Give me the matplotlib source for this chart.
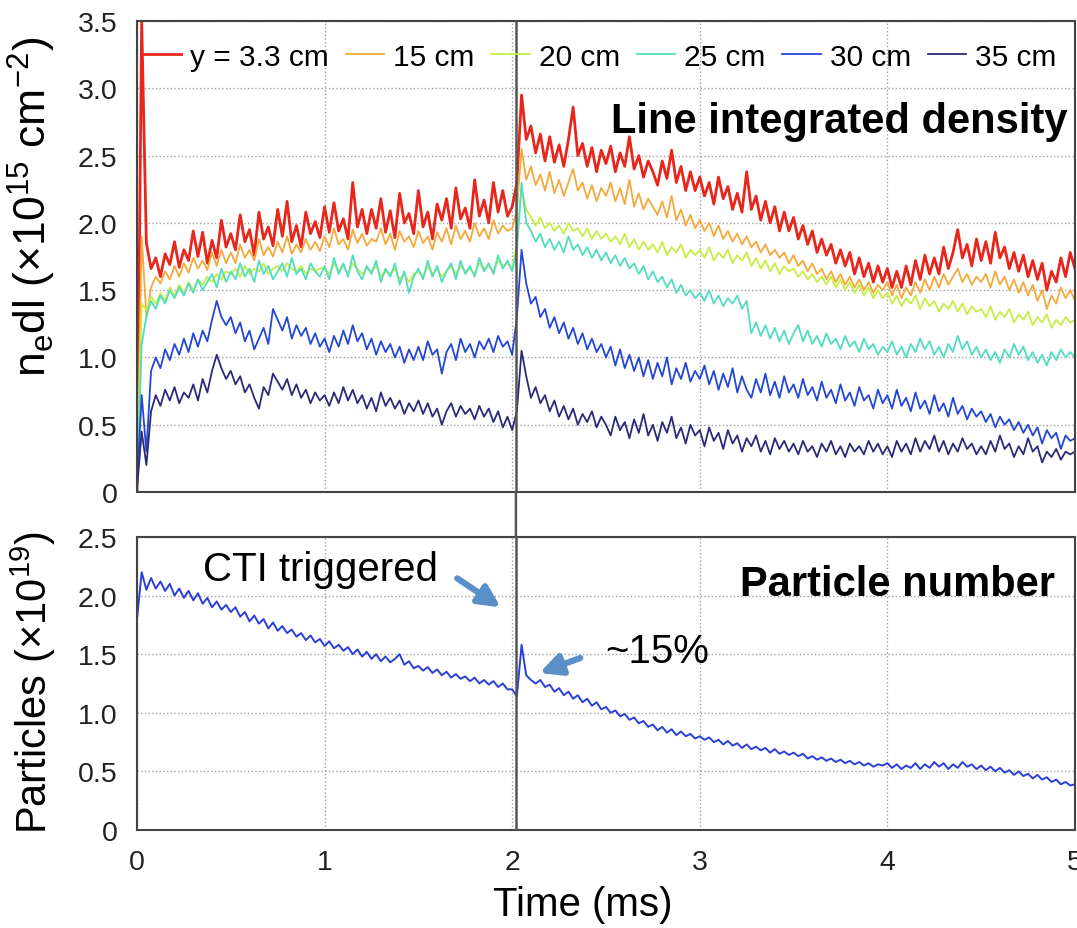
import numpy as np
import matplotlib
matplotlib.use('Agg')
import matplotlib.pyplot as plt
from matplotlib.patches import ConnectionPatch

plt.rcParams['font.family'] = ['Liberation Sans', 'DejaVu Sans']
plt.rcParams['mathtext.fontset'] = 'custom'
plt.rcParams['mathtext.rm'] = 'Liberation Sans'
plt.rcParams['mathtext.it'] = 'Liberation Sans:italic'

# sampling times (ms), one sample every 25 us
time_ms = np.round(np.arange(0, 5.0001, 0.025), 3)
t_cti = 2.02  # CTI trigger time

# line integrated density (x1e15 cm^-2), one row per 0.5 ms
ne_33 = [
    0.00, 3.50, 1.85, 1.66, 1.74, 1.60, 1.77, 1.69, 1.86, 1.67, 1.80, 1.72, 1.94, 1.75, 1.93, 1.70, 1.87, 1.74, 2.02, 1.82,
    1.92, 1.80, 2.06, 1.86, 1.95, 1.76, 2.08, 1.88, 1.97, 1.83, 2.10, 1.90, 2.16, 1.86, 1.98, 1.82, 2.08, 1.92, 2.01, 1.89,
    2.12, 1.93, 2.15, 1.94, 2.03, 1.88, 2.30, 1.97, 2.10, 1.92, 2.10, 1.96, 2.18, 1.93, 2.09, 1.89, 2.22, 2.00, 2.07, 1.92,
    2.24, 1.97, 2.08, 1.88, 2.14, 2.02, 2.18, 1.96, 2.26, 2.03, 2.11, 1.96, 2.32, 2.05, 2.17, 2.00, 2.30, 2.08, 2.24, 2.05,
    2.12, 2.30, 2.95, 2.62, 2.72, 2.52, 2.66, 2.46, 2.64, 2.45, 2.58, 2.42, 2.62, 2.86, 2.50, 2.59, 2.42, 2.56, 2.38, 2.54,
    2.44, 2.57, 2.38, 2.52, 2.42, 2.64, 2.40, 2.50, 2.34, 2.46, 2.38, 2.28, 2.46, 2.33, 2.54, 2.30, 2.42, 2.24, 2.38, 2.24,
    2.34, 2.20, 2.30, 2.14, 2.34, 2.18, 2.27, 2.10, 2.22, 2.08, 2.38, 2.10, 2.20, 2.02, 2.16, 2.00, 2.12, 1.94, 2.08, 1.94,
    2.04, 1.88, 1.98, 1.84, 1.94, 1.78, 1.88, 1.76, 1.84, 1.70, 1.80, 1.68, 1.78, 1.62, 1.74, 1.60, 1.70, 1.56, 1.68, 1.56,
    1.66, 1.52, 1.64, 1.52, 1.68, 1.54, 1.72, 1.58, 1.76, 1.62, 1.74, 1.62, 1.82, 1.66, 1.78, 1.95, 1.74, 1.84, 1.68, 1.88,
    1.72, 1.86, 1.70, 1.93, 1.74, 1.82, 1.66, 1.78, 1.64, 1.76, 1.60, 1.72, 1.58, 1.70, 1.50, 1.64, 1.56, 1.74, 1.60, 1.78,
    1.66,
]
ne_15 = [
    0.00, 1.90, 1.30, 1.52, 1.60, 1.55, 1.64, 1.58, 1.68, 1.60, 1.70, 1.63, 1.74, 1.66, 1.72, 1.65, 1.78, 1.68, 1.80, 1.70,
    1.78, 1.70, 1.84, 1.74, 1.80, 1.72, 1.88, 1.76, 1.82, 1.75, 1.86, 1.78, 1.90, 1.77, 1.84, 1.78, 1.88, 1.80, 1.86, 1.79,
    1.90, 1.82, 1.96, 1.84, 1.88, 1.80, 1.95, 1.85, 1.92, 1.83, 1.88, 1.86, 1.96, 1.84, 1.92, 1.80, 1.94, 1.86, 1.90, 1.82,
    1.94, 1.85, 1.90, 1.80, 1.93, 1.86, 1.96, 1.84, 1.98, 1.88, 1.94, 1.86, 2.00, 1.90, 1.96, 1.88, 2.02, 1.92, 1.98, 1.94,
    1.96, 2.10, 2.55, 2.32, 2.42, 2.28, 2.36, 2.24, 2.38, 2.22, 2.32, 2.20, 2.30, 2.40, 2.24, 2.30, 2.18, 2.28, 2.16, 2.26,
    2.20, 2.30, 2.16, 2.26, 2.14, 2.32, 2.12, 2.22, 2.10, 2.18, 2.12, 2.06, 2.16, 2.04, 2.20, 2.02, 2.10, 1.98, 2.06, 1.96,
    2.02, 1.94, 2.00, 1.90, 1.98, 1.88, 1.94, 1.86, 1.92, 1.84, 1.90, 1.82, 1.86, 1.78, 1.84, 1.76, 1.80, 1.74, 1.78, 1.70,
    1.76, 1.68, 1.72, 1.64, 1.70, 1.62, 1.66, 1.58, 1.64, 1.56, 1.62, 1.54, 1.60, 1.52, 1.58, 1.50, 1.56, 1.48, 1.54, 1.50,
    1.56, 1.46, 1.54, 1.44, 1.52, 1.46, 1.56, 1.48, 1.58, 1.50, 1.60, 1.52, 1.62, 1.54, 1.60, 1.66, 1.56, 1.62, 1.54, 1.60,
    1.56, 1.62, 1.52, 1.64, 1.54, 1.60, 1.50, 1.58, 1.48, 1.56, 1.46, 1.54, 1.42, 1.50, 1.36, 1.46, 1.40, 1.52, 1.44, 1.50,
    1.42,
]
ne_20 = [
    0.00, 1.40, 1.35, 1.45, 1.40, 1.48, 1.42, 1.52, 1.46, 1.54, 1.48, 1.56, 1.50, 1.58, 1.54, 1.60, 1.56, 1.62, 1.58, 1.64,
    1.62, 1.66, 1.60, 1.68, 1.62, 1.66, 1.64, 1.70, 1.62, 1.66, 1.68, 1.64, 1.70, 1.66, 1.64, 1.68, 1.62, 1.66, 1.64, 1.66,
    1.66, 1.62, 1.70, 1.64, 1.68, 1.62, 1.70, 1.66, 1.62, 1.66, 1.64, 1.68, 1.60, 1.64, 1.62, 1.66, 1.58, 1.62, 1.56, 1.62,
    1.64, 1.60, 1.68, 1.62, 1.66, 1.60, 1.64, 1.68, 1.62, 1.68, 1.64, 1.66, 1.62, 1.70, 1.66, 1.68, 1.64, 1.72, 1.68, 1.70,
    1.66, 1.85, 2.25, 2.10, 2.04, 1.98, 2.04, 1.96, 2.00, 1.94, 1.98, 1.92, 2.00, 1.94, 1.96, 1.90, 1.96, 1.88, 1.94, 1.88,
    1.92, 1.86, 1.90, 1.84, 1.92, 1.82, 1.88, 1.80, 1.86, 1.80, 1.84, 1.78, 1.86, 1.76, 1.82, 1.78, 1.84, 1.74, 1.80, 1.76,
    1.80, 1.74, 1.82, 1.72, 1.78, 1.74, 1.80, 1.70, 1.76, 1.72, 1.78, 1.68, 1.74, 1.66, 1.72, 1.64, 1.70, 1.62, 1.68, 1.64,
    1.66, 1.60, 1.64, 1.58, 1.62, 1.56, 1.60, 1.54, 1.60, 1.52, 1.58, 1.50, 1.56, 1.48, 1.54, 1.46, 1.52, 1.44, 1.50, 1.44,
    1.48, 1.40, 1.46, 1.38, 1.44, 1.40, 1.46, 1.36, 1.44, 1.38, 1.42, 1.34, 1.40, 1.36, 1.42, 1.34, 1.40, 1.32, 1.38, 1.34,
    1.36, 1.30, 1.38, 1.28, 1.34, 1.30, 1.36, 1.26, 1.32, 1.28, 1.34, 1.24, 1.30, 1.26, 1.32, 1.22, 1.28, 1.24, 1.30, 1.26,
    1.28,
]
ne_25 = [
    0.00, 1.10, 1.30, 1.42, 1.36, 1.46, 1.40, 1.50, 1.44, 1.52, 1.46, 1.55, 1.48, 1.58, 1.50, 1.56, 1.62, 1.52, 1.66, 1.56,
    1.64, 1.58, 1.70, 1.60, 1.66, 1.56, 1.72, 1.62, 1.68, 1.58, 1.64, 1.70, 1.60, 1.74, 1.62, 1.66, 1.58, 1.70, 1.64, 1.60,
    1.68, 1.58, 1.74, 1.62, 1.70, 1.60, 1.76, 1.64, 1.58, 1.68, 1.62, 1.72, 1.56, 1.66, 1.60, 1.70, 1.54, 1.64, 1.48, 1.60,
    1.66, 1.58, 1.72, 1.60, 1.68, 1.56, 1.64, 1.70, 1.58, 1.72, 1.62, 1.68, 1.60, 1.74, 1.64, 1.70, 1.62, 1.76, 1.66, 1.72,
    1.64, 1.80, 2.30, 2.00, 1.94, 1.86, 1.92, 1.82, 1.88, 1.80, 1.86, 1.78, 1.90, 1.80, 1.84, 1.76, 1.82, 1.74, 1.80, 1.72,
    1.78, 1.70, 1.76, 1.68, 1.74, 1.66, 1.70, 1.62, 1.68, 1.58, 1.64, 1.56, 1.60, 1.52, 1.58, 1.48, 1.54, 1.46, 1.50, 1.44,
    1.48, 1.42, 1.50, 1.40, 1.46, 1.38, 1.44, 1.40, 1.46, 1.36, 1.42, 1.18, 1.26, 1.16, 1.24, 1.14, 1.22, 1.12, 1.20, 1.10,
    1.18, 1.24, 1.12, 1.20, 1.10, 1.16, 1.08, 1.18, 1.10, 1.14, 1.06, 1.16, 1.08, 1.12, 1.04, 1.14, 1.06, 1.10, 1.02, 1.08,
    1.04, 1.12, 1.02, 1.08, 1.00, 1.10, 1.04, 1.14, 1.06, 1.12, 1.02, 1.08, 1.00, 1.10, 1.04, 1.16, 1.06, 1.12, 1.02, 1.08,
    1.00, 1.06, 0.98, 1.04, 0.96, 1.06, 1.00, 1.10, 1.02, 1.08, 0.98, 1.04, 0.96, 1.02, 0.94, 1.04, 0.98, 1.06, 1.00, 1.04,
    1.00,
]
ne_30 = [
    0.05, 0.72, 0.30, 0.90, 1.00, 0.92, 1.06, 0.98, 1.10, 1.02, 1.14, 1.04, 1.18, 1.08, 1.20, 1.12, 1.28, 1.42, 1.30, 1.24,
    1.30, 1.18, 1.26, 1.12, 1.20, 1.06, 1.14, 1.22, 1.10, 1.36, 1.28, 1.20, 1.30, 1.14, 1.24, 1.16, 1.22, 1.10, 1.18, 1.08,
    1.14, 1.04, 1.16, 1.08, 1.20, 1.10, 1.24, 1.12, 1.18, 1.06, 1.14, 1.02, 1.12, 1.04, 1.10, 1.00, 1.08, 0.96, 1.06, 0.98,
    1.08, 0.98, 1.12, 1.02, 1.06, 0.88, 1.04, 1.10, 0.98, 1.14, 1.04, 1.10, 1.00, 1.12, 1.06, 1.14, 1.04, 1.16, 1.08, 1.12,
    1.02, 1.30, 1.80, 1.55, 1.40, 1.45, 1.30, 1.36, 1.22, 1.30, 1.18, 1.26, 1.14, 1.22, 1.10, 1.18, 1.06, 1.14, 1.04, 1.10,
    1.00, 1.08, 0.94, 1.06, 0.92, 1.02, 0.90, 1.00, 0.86, 0.98, 0.84, 0.96, 0.86, 1.00, 0.80, 0.92, 0.84, 0.96, 0.82, 0.90,
    0.84, 0.94, 0.80, 0.90, 0.76, 0.88, 0.78, 0.92, 0.74, 0.86, 0.76, 0.70, 0.84, 0.74, 0.88, 0.72, 0.82, 0.70, 0.86, 0.74,
    0.80, 0.70, 0.84, 0.72, 0.78, 0.68, 0.82, 0.70, 0.76, 0.66, 0.80, 0.68, 0.74, 0.64, 0.78, 0.68, 0.72, 0.62, 0.76, 0.66,
    0.72, 0.62, 0.76, 0.64, 0.70, 0.60, 0.74, 0.62, 0.68, 0.58, 0.72, 0.60, 0.66, 0.56, 0.70, 0.58, 0.64, 0.54, 0.62, 0.56,
    0.60, 0.52, 0.58, 0.48, 0.56, 0.50, 0.54, 0.46, 0.52, 0.44, 0.50, 0.42, 0.48, 0.36, 0.46, 0.40, 0.44, 0.32, 0.42, 0.38,
    0.40,
]
ne_35 = [
    0.02, 0.45, 0.20, 0.60, 0.72, 0.64, 0.76, 0.68, 0.78, 0.66, 0.74, 0.70, 0.80, 0.68, 0.84, 0.74, 0.90, 1.02, 0.92, 0.84,
    0.90, 0.80, 0.86, 0.74, 0.80, 0.70, 0.62, 0.78, 0.72, 0.88, 0.82, 0.76, 0.84, 0.72, 0.80, 0.70, 0.76, 0.66, 0.74, 0.68,
    0.72, 0.64, 0.74, 0.66, 0.78, 0.68, 0.76, 0.66, 0.72, 0.62, 0.70, 0.60, 0.74, 0.64, 0.70, 0.62, 0.68, 0.58, 0.66, 0.60,
    0.68, 0.58, 0.66, 0.56, 0.62, 0.50, 0.60, 0.66, 0.56, 0.64, 0.58, 0.62, 0.54, 0.64, 0.56, 0.62, 0.52, 0.60, 0.48, 0.56,
    0.46, 0.60, 1.05, 0.86, 0.70, 0.78, 0.66, 0.72, 0.60, 0.68, 0.56, 0.64, 0.54, 0.62, 0.50, 0.58, 0.52, 0.60, 0.48, 0.56,
    0.50, 0.42, 0.56, 0.46, 0.52, 0.40, 0.54, 0.44, 0.58, 0.42, 0.50, 0.38, 0.52, 0.44, 0.56, 0.40, 0.48, 0.36, 0.50, 0.42,
    0.46, 0.34, 0.48, 0.38, 0.44, 0.32, 0.46, 0.36, 0.42, 0.30, 0.40, 0.34, 0.42, 0.30, 0.38, 0.28, 0.40, 0.32, 0.38, 0.30,
    0.36, 0.28, 0.38, 0.30, 0.34, 0.26, 0.36, 0.30, 0.38, 0.28, 0.34, 0.26, 0.36, 0.30, 0.34, 0.28, 0.38, 0.30, 0.36, 0.28,
    0.34, 0.26, 0.38, 0.30, 0.36, 0.28, 0.40, 0.30, 0.38, 0.32, 0.42, 0.30, 0.38, 0.28, 0.36, 0.30, 0.40, 0.32, 0.36, 0.28,
    0.34, 0.28, 0.38, 0.30, 0.42, 0.32, 0.36, 0.26, 0.34, 0.28, 0.40, 0.30, 0.34, 0.22, 0.30, 0.26, 0.32, 0.24, 0.30, 0.28,
    0.30,
]

# particle number (x1e19)
particles = [
    1.80, 2.20, 2.05, 2.15, 2.06, 2.12, 2.04, 2.10, 2.00, 2.06, 1.98, 2.04, 1.96, 2.02, 1.93, 1.98, 1.90, 1.95, 1.88, 1.92,
    1.86, 1.90, 1.82, 1.86, 1.78, 1.83, 1.76, 1.80, 1.72, 1.77, 1.70, 1.74, 1.68, 1.71, 1.65, 1.68, 1.62, 1.66, 1.60, 1.63,
    1.57, 1.61, 1.55, 1.58, 1.53, 1.56, 1.50, 1.54, 1.48, 1.52, 1.46, 1.50, 1.44, 1.48, 1.43, 1.46, 1.50, 1.41, 1.44, 1.38,
    1.40, 1.36, 1.39, 1.34, 1.37, 1.32, 1.35, 1.30, 1.33, 1.29, 1.31, 1.27, 1.30, 1.25, 1.28, 1.24, 1.27, 1.22, 1.25, 1.20,
    1.20, 1.14, 1.58, 1.32, 1.28, 1.25, 1.28, 1.22, 1.24, 1.18, 1.21, 1.15, 1.18, 1.12, 1.15, 1.09, 1.12, 1.06, 1.09, 1.03,
    1.05, 1.00, 1.02, 0.97, 0.99, 0.94, 0.96, 0.91, 0.93, 0.88, 0.90, 0.85, 0.88, 0.83, 0.86, 0.81, 0.84, 0.80, 0.82, 0.78,
    0.80, 0.77, 0.79, 0.75, 0.77, 0.73, 0.76, 0.72, 0.74, 0.70, 0.73, 0.69, 0.71, 0.68, 0.70, 0.66, 0.69, 0.65, 0.67, 0.64,
    0.66, 0.63, 0.65, 0.61, 0.63, 0.60, 0.62, 0.59, 0.61, 0.58, 0.60, 0.57, 0.59, 0.56, 0.58, 0.55, 0.57, 0.54, 0.56, 0.55,
    0.57, 0.53, 0.56, 0.52, 0.55, 0.53, 0.57, 0.52, 0.56, 0.53, 0.58, 0.54, 0.57, 0.52, 0.56, 0.53, 0.58, 0.54, 0.56, 0.52,
    0.55, 0.51, 0.54, 0.50, 0.53, 0.49, 0.51, 0.47, 0.50, 0.46, 0.48, 0.44, 0.47, 0.43, 0.45, 0.41, 0.43, 0.39, 0.41, 0.38,
    0.39,
]

labels = ['y = 3.3 cm', '15 cm', '20 cm', '25 cm', '30 cm', '35 cm']
colors = ['#e8261c', '#f4a93a', '#c6ee46', '#52dcc0', '#2346d6', '#2b2a78']
widths = [2.0, 1.3, 1.3, 1.3, 1.3, 1.3]
series = [ne_33, ne_15, ne_20, ne_25, ne_30, ne_35]

top_ticks = [0, 0.5, 1.0, 1.5, 2.0, 2.5, 3.0, 3.5]
top_ticklabels = ['0', '0.5', '1.0', '1.5', '2.0', '2.5', '3.0', '3.5']
bot_ticks = [0, 0.5, 1.0, 1.5, 2.0, 2.5]
bot_ticklabels = ['0', '0.5', '1.0', '1.5', '2.0', '2.5']
x_ticks = [0, 1, 2, 3, 4, 5]

fig = plt.figure(figsize=(10.77, 9.29), dpi=100)
ax1 = fig.add_axes([0.1272, 0.4693, 0.8709, 0.5070])
ax2 = fig.add_axes([0.1272, 0.1055, 0.8709, 0.3154])

for y, lab, c, w in zip(series, labels, colors, widths):
    ax1.plot(time_ms, y, color=c, lw=w, label=lab)

ax2.plot(time_ms, particles, color='#2b3fd8', lw=1.4)

for ax, ticks, tl, ylim in [(ax1, top_ticks, top_ticklabels, 3.5),
                            (ax2, bot_ticks, bot_ticklabels, 2.5)]:
    ax.set_xlim(0, 5)
    ax.set_ylim(0, ylim)
    ax.set_yticks(ticks)
    ax.set_yticklabels(tl)
    ax.set_xticks(x_ticks)
    ax.grid(True, ls=':', color='#a0a0a0', lw=1.0)
    ax.tick_params(length=0, labelsize=20.5, pad=14, colors='#222222')
    for s in ax.spines.values():
        s.set_color('#444444')
        s.set_linewidth(1.5)
    ax.axvline(t_cti, color='#555555', lw=1.8, zorder=5)

ax1.set_xticklabels([])
ax2.set_xticklabels([str(v) for v in x_ticks])

ax1.set_ylabel(r'n$_\mathrm{e}$dl (×10$^{15}$ cm$^{-2}$)', fontsize=32, va='center')
ax1.yaxis.set_label_coords(-0.112, 0.607)
ax2.set_ylabel(r'Particles (×10$^{19}$)', fontsize=30, va='center')
ax2.yaxis.set_label_coords(-0.111, 0.505)
ax2.set_xlabel('Time (ms)', fontsize=29, va='center')
ax2.xaxis.set_label_coords(0.4755, -0.2526)

# CTI line crosses the gap between the two panels
con = ConnectionPatch(xyA=(t_cti, 0), coordsA=ax1.transData,
                      xyB=(t_cti, 2.5), coordsB=ax2.transData,
                      color='#555555', lw=1.8)
fig.add_artist(con)

ax1.legend(ncol=6, loc='upper left', bbox_to_anchor=(0.006, 0.954), fontsize=21.5,
           frameon=False, handlelength=1.3, handletextpad=0.3, columnspacing=0.55,
           borderaxespad=0, borderpad=0)

ax1.text(0.9925, 0.788, 'Line integrated density', transform=ax1.transAxes,
         ha='right', va='center', fontsize=30, fontweight='bold')
ax2.text(0.9787, 0.84, 'Particle number', transform=ax2.transAxes,
         ha='right', va='center', fontsize=30, fontweight='bold')

arrow_c = '#5b8fc8'
ax2.text(0.352, 2.227, 'CTI triggered', ha='left', va='center', fontsize=29)
ax2.annotate('', xy=(1.951, 1.886), xytext=(1.695, 2.16),
             arrowprops=dict(arrowstyle='-|>', color=arrow_c, lw=4.5, mutation_scale=32))
ax2.text(2.495, 1.527, '~15%', ha='left', va='center', fontsize=29)
ax2.annotate('', xy=(2.132, 1.331), xytext=(2.377, 1.476),
             arrowprops=dict(arrowstyle='-|>', color=arrow_c, lw=4.5, mutation_scale=32))

fig.savefig('out.png', dpi=100)
